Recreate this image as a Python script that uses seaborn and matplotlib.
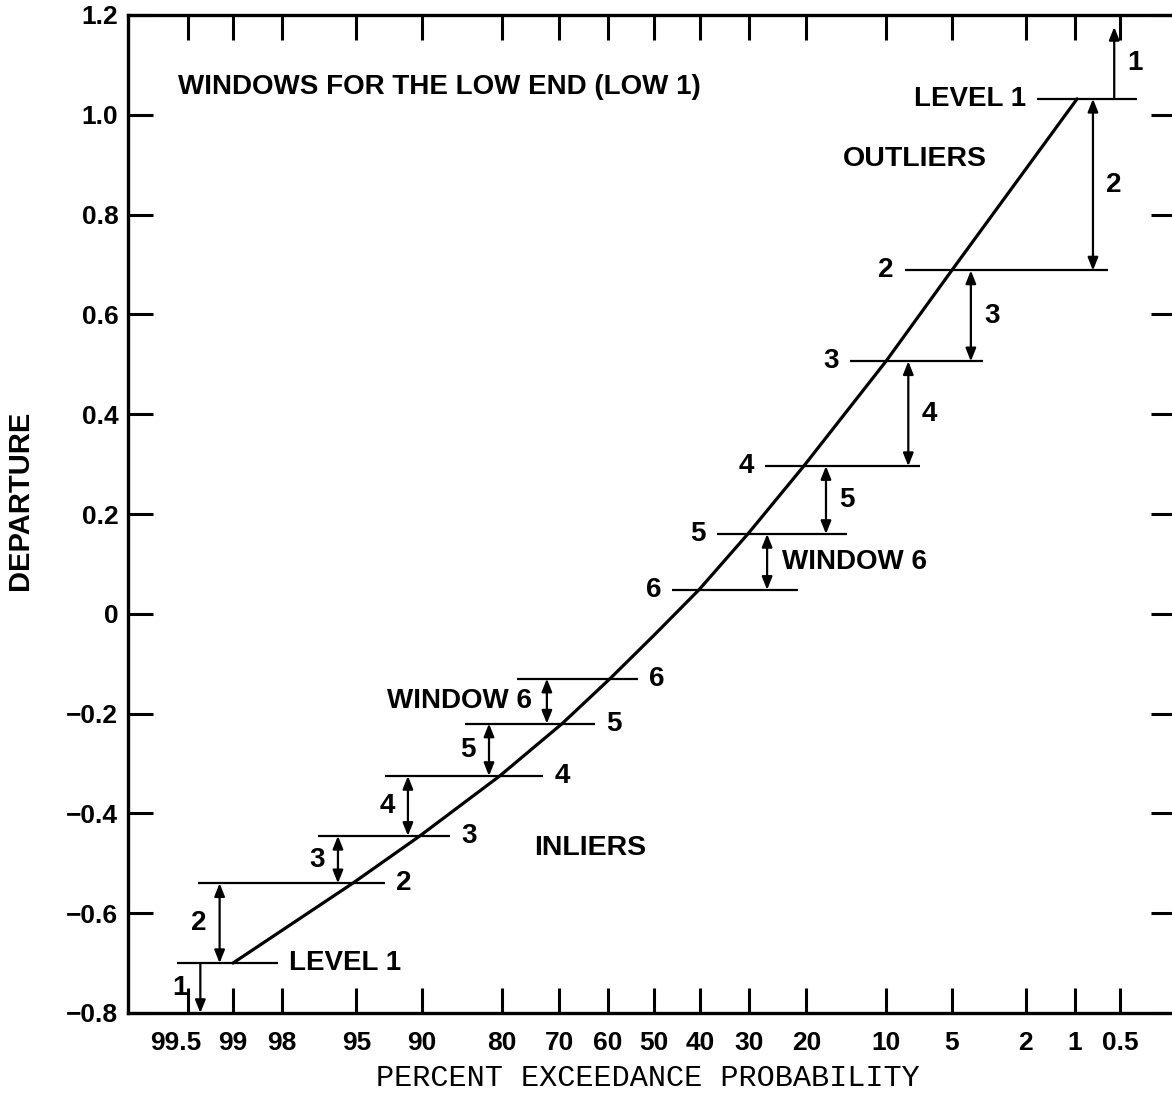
import numpy as np
import matplotlib
matplotlib.use("Agg")
import matplotlib.pyplot as plt
from matplotlib.ticker import FixedLocator, NullLocator
from matplotlib.transforms import ScaledTranslation
import seaborn as sns
import pandas as pd
from statistics import NormalDist

# ---------------- data ----------------
curve_exceed = [99, 95.2, 90.2, 80.3, 69.4, 59.6, 50, 40.2, 30.2, 20.4,
                10.0, 5.0, 0.97]
curve_depart = [-0.70, -0.54, -0.445, -0.325, -0.22, -0.13, -0.043,
                0.048, 0.16, 0.296, 0.506, 0.688, 1.032]

# high end (outliers) window levels, line extents (percent exceedance)
high_levels = [1.032, 0.688, 0.506, 0.296, 0.16, 0.048]
high_left = [1.72, 8.28, 13.94, 27.0, 36.4, 46.0]
high_right = [0.38, 0.61, 3.45, 7.08, 14.3, 21.3]
high_level_labels = ["LEVEL 1", "2", "3", "4", "5", "6"]
high_arrow_x = [0.55, 0.765, 4.0, 8.0, 17.1, 26.6]
high_arrow1_top = 1.176
high_arrow_labels = ["1", "2", "3", "4", "5", "WINDOW 6"]

# low end (inliers) window levels
low_levels = [-0.70, -0.54, -0.445, -0.325, -0.22, -0.13]
low_left = [99.58, 99.41, 96.83, 93.14, 85.2, 77.5]
low_right = [98.11, 93.14, 87.0, 73.0, 62.8, 53.5]
low_level_labels = ["LEVEL 1", "2", "3", "4", "5", "6"]
low_arrow_x = [99.39, 99.18, 95.96, 91.3, 81.9, 72.3]
low_arrow1_bottom = -0.80
low_arrow_labels = ["1", "2", "3", "4", "5", "WINDOW 6"]

x_ticks = [99.5, 99, 98, 95, 90, 80, 70, 60, 50, 40, 30, 20, 10, 5, 2, 1, 0.5]
x_tick_labels = ["99.5", "99", "98", "95", "90", "80", "70", "60", "50",
                 "40", "30", "20", "10", "5", "2", "1", "0.5"]
y_ticks = [1.2, 1.0, 0.8, 0.6, 0.4, 0.2, 0, -0.2, -0.4, -0.6, -0.8]
y_tick_labels = ["1.2", "1.0", "0.8", "0.6", "0.4", "0.2", "0",
                 "\u22120.2", "\u22120.4", "\u22120.6", "\u22120.8"]

title_text = "WINDOWS FOR THE LOW END (LOW 1)"
outliers_text = "OUTLIERS"
inliers_text = "INLIERS"
x_label = "PERCENT EXCEEDANCE PROBABILITY"
y_label = "DEPARTURE"

# ---------------- normal probability scale ----------------
_nd = NormalDist()
_inv_cdf = np.vectorize(_nd.inv_cdf, otypes=[float])
_cdf = np.vectorize(_nd.cdf, otypes=[float])


def fwd(p):
    p = np.asarray(p, dtype=float)
    q = np.clip(1.0 - p / 100.0, 1e-9, 1 - 1e-9)
    out = np.full(q.shape, np.nan)
    m = np.isfinite(q)
    if m.any():
        out[m] = _inv_cdf(q[m])
    return out


def inv(z):
    z = np.asarray(z, dtype=float)
    out = np.full(z.shape, np.nan)
    m = np.isfinite(z)
    if m.any():
        out[m] = 100.0 * (1.0 - _cdf(z[m]))
    return out


sns.set_theme(style="white")
plt.rcParams["font.family"] = ["Liberation Sans", "DejaVu Sans"]
plt.rcParams["axes.unicode_minus"] = True

W, H = 1172, 1093
fig = plt.figure(figsize=(W / 100, H / 100), dpi=100)
fig.patch.set_facecolor("white")
ax = fig.add_axes([128 / W, 80 / H, 1048 / W, 998 / H])
ax.set_facecolor("white")
ax.set_xscale("function", functions=(fwd, inv))

df = pd.DataFrame({"exceed": curve_exceed, "departure": curve_depart})
sns.lineplot(data=df, x="exceed", y="departure", ax=ax, color="black",
             linewidth=2.3, sort=False, estimator=None, legend=False)

FS = 20
K = dict(color="black", fontweight="bold")
arrow_style = dict(color="black", lw=1.6, shrinkA=0, shrinkB=0,
                   mutation_scale=14)

# high end levels
for y, xl, xr, lab in zip(high_levels, high_left, high_right, high_level_labels):
    ax.hlines(y, xl, xr, color="black", lw=1.6)
    ax.annotate(lab, xy=(xl, y), xytext=(-8, 0), textcoords="offset points",
                ha="right", va="center", fontsize=FS, **K)

# high end arrows
tops = [high_arrow1_top] + high_levels[:-1]
for i, (xa, y0, y1, lab) in enumerate(zip(high_arrow_x, high_levels, tops,
                                          high_arrow_labels)):
    style = "-|>,head_length=0.55,head_width=0.22" if i == 0 else \
        "<|-|>,head_length=0.55,head_width=0.22"
    ax.annotate("", xy=(xa, y1), xytext=(xa, y0),
                arrowprops=dict(arrowstyle=style, **arrow_style))
    ym = (y0 + y1) / 2
    if lab.startswith("WINDOW"):
        ax.annotate(lab, xy=(xa, ym), xytext=(11, 0), textcoords="offset points",
                    ha="left", va="center", fontsize=FS, **K)
    else:
        ax.annotate(lab, xy=(xa, ym), xytext=(15, 0), textcoords="offset points",
                    ha="center", va="center", fontsize=FS, **K)

# low end levels
for y, xl, xr, lab in zip(low_levels, low_left, low_right, low_level_labels):
    ax.hlines(y, xl, xr, color="black", lw=1.6)
    ax.annotate(lab, xy=(xr, y), xytext=(8, 0), textcoords="offset points",
                ha="left", va="center", fontsize=FS, **K)

# low end arrows
bottoms = [low_arrow1_bottom] + low_levels[:-1]
for i, (xa, y0, y1, lab) in enumerate(zip(low_arrow_x, low_levels, bottoms,
                                          low_arrow_labels)):
    style = "-|>,head_length=0.55,head_width=0.22" if i == 0 else \
        "<|-|>,head_length=0.55,head_width=0.22"
    ax.annotate("", xy=(xa, y1), xytext=(xa, y0),
                arrowprops=dict(arrowstyle=style, **arrow_style))
    ym = (y0 + y1) / 2
    if lab.startswith("WINDOW"):
        ax.annotate(lab, xy=(xa, ym), xytext=(-11, 0), textcoords="offset points",
                    ha="right", va="center", fontsize=FS, **K)
    else:
        ax.annotate(lab, xy=(xa, ym), xytext=(-15, 0), textcoords="offset points",
                    ha="center", va="center", fontsize=FS, **K)

# headings
ax.text(0.0477, 0.928, title_text, transform=ax.transAxes, ha="left",
        va="center", fontsize=FS, **K)
ax.text(0.751, 0.856, outliers_text, transform=ax.transAxes, ha="center",
        va="center", fontsize=20.5, **K)
ax.text(0.441, 0.165, inliers_text, transform=ax.transAxes, ha="center",
        va="center", fontsize=20.5, **K)

# limits: the scale runs from high exceedance (left, z = -2.906) to low (right,
# z = 2.884); the transform decreases with the data value, so the limits are
# passed in ascending data order.
x_left, x_right = float(inv(-2.906)), float(inv(2.884))
ax.set_ylim(-0.8, 1.2)
ax.set_xlim(min(x_left, x_right), max(x_left, x_right))

# axes, ticks
ax.xaxis.set_major_locator(FixedLocator(x_ticks))
ax.set_xticklabels(x_tick_labels)
ax.xaxis.set_minor_locator(NullLocator())
ax.set_yticks(y_ticks)
ax.set_yticklabels(y_tick_labels)
ax.yaxis.set_minor_locator(NullLocator())
ax.tick_params(axis="both", which="major", direction="in", length=18,
               width=2.2, color="black", top=True, right=True, bottom=True,
               left=True, labelcolor="black", labelsize=19)
ax.tick_params(axis="x", pad=13)
ax.tick_params(axis="y", pad=7)
for t in ax.get_xticklabels() + ax.get_yticklabels():
    t.set_fontweight("bold")
for s in ax.spines.values():
    s.set_linewidth(2.4)
    s.set_color("black")
    s.set_visible(True)

# the "99.5" label sits a little left of its tick in the reference
for tick in ax.xaxis.get_major_ticks():
    if tick.label1.get_text() == "99.5":
        tick.label1.set_transform(tick.label1.get_transform()
                                  + ScaledTranslation(-0.12, 0, fig.dpi_scale_trans))

ax.set_xlabel(x_label, fontsize=21.8, family=["Liberation Mono", "DejaVu Sans Mono"],
              color="black")
ax.xaxis.set_label_coords(0.496, -0.051)
ax.set_ylabel(y_label, fontsize=21, fontweight="bold", color="black")
ax.yaxis.set_label_coords(-0.0895, 0.514)
ax.grid(False)

fig.savefig("out.png", dpi=100, facecolor="white")
